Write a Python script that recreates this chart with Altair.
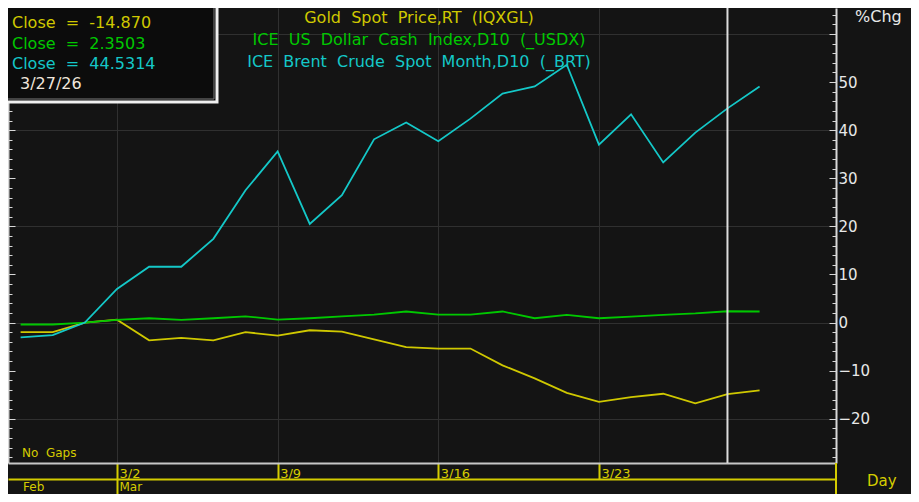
import altair as alt
import pandas as pd

# ---------------- data ----------------
dates = ["2/25", "2/26", "2/27", "3/2", "3/3", "3/4", "3/5", "3/6",
         "3/9", "3/10", "3/11", "3/12", "3/13", "3/16", "3/17", "3/18",
         "3/19", "3/20", "3/23", "3/24", "3/25", "3/26", "3/27", "3/30"]
gold = [-2.0, -2.0, 0.0, 0.6, -3.7, -3.2, -3.7, -2.0, -2.7, -1.6, -1.9, -3.5,
        -5.1, -5.4, -5.4, -8.9, -11.6, -14.6, -16.5, -15.5, -14.8, -16.8, -14.87, -14.1]
usd = [-0.4, -0.4, 0.0, 0.55, 0.9, 0.55, 0.9, 1.3, 0.6, 0.9, 1.3, 1.65,
       2.3, 1.65, 1.65, 2.3, 0.9, 1.6, 0.9, 1.25, 1.6, 1.9, 2.3503, 2.3]
brent = [-3.1, -2.6, 0.0, 7.0, 11.6, 11.6, 17.4, 27.5, 35.6, 20.5, 26.5, 38.1,
         41.6, 37.7, 42.4, 47.6, 49.1, 53.6, 37.0, 43.3, 33.3, 39.5, 44.5314, 49.1]

series_names = ["Gold Spot Price,RT (IQXGL)",
                "ICE US Dollar Cash Index,D10 (_USDX)",
                "ICE Brent Crude Spot Month,D10 (_BRT)"]
series_colors = ["#cfc800", "#00c800", "#14c8c8"]
readouts = ["-14.870", "2.3503", "44.5314"]
cursor_date = "3/27"
cursor_label = "3/27/26"
week_labels = ["3/2", "3/9", "3/16", "3/23"]
month_labels = ["Feb", "Mar"]
month_first = ["2/25", "3/2"]
y_label_values = [-20, -10, 0, 10, 20, 30, 40, 50, 60]
y_title = "%Chg"
x_title = "Day"
note = "No Gaps"

# ---------------- styling ----------------
FONT = "DejaVu Sans"
YELLOW = "#d4cc00"
FRAME = "#d8d8d8"
GRID = "#303030"
BG = "#141414"
W, H = 828, 455
WEEK_ROW = 16
NB2 = "\u00a0\u00a0"


def sp(s):
    return s.replace(" ", NB2)


rows = []
for name, vals in zip(series_names, [gold, usd, brent]):
    for i, v in enumerate(vals):
        rows.append({"idx": i, "value": v, "series": name})
df = pd.DataFrame(rows)

week_idx = [dates.index(d) for d in week_labels]
month_idx = [dates.index(d) for d in month_first]
cursor_idx = dates.index(cursor_date)


def label_expr(idx, labels):
    expr = "''"
    for i, l in reversed(list(zip(idx, labels))):
        expr = f"datum.value == {i} ? '{l}' : ({expr})"
    return expr


xs = alt.Scale(domain=[-0.392, 25.378], nice=False, zero=False)
ys = alt.Scale(domain=[-29.2, 65.4], nice=False, zero=False)
minor_vals = list(range(-28, 66, 2))

week_axis = alt.Axis(
    values=week_idx, orient="bottom", grid=True, gridColor=GRID,
    domain=True, domainColor="#c8c8c8", domainWidth=2,
    ticks=True, tickSize=WEEK_ROW, tickColor=YELLOW, tickWidth=2,
    labelExpr=label_expr(week_idx, week_labels), labelColor=YELLOW,
    labelFont=FONT, labelFontSize=13, labelAlign="left",
    labelBaseline="alphabetic", labelPadding=-2, labelOffset=2,
    labelOverlap=False, labelFlush=False, title=None)

month_axis = alt.Axis(
    values=month_idx, orient="bottom", offset=WEEK_ROW, grid=False,
    domain=True, domainColor=YELLOW, domainWidth=2,
    ticks=True, tickSize=15, tickColor=YELLOW, tickWidth=2,
    tickOpacity={"condition": {"test": f"indexof({month_idx[1:]}, datum.value) >= 0", "value": 1}, "value": 0},
    labelExpr=label_expr(month_idx, month_labels), labelColor=YELLOW,
    labelFont=FONT, labelFontSize=12, labelAlign="left",
    labelBaseline="alphabetic", labelPadding=-4, labelOffset=2,
    labelOverlap=False, labelFlush=False, title=None)

ylabel_axis = alt.Axis(
    orient="right", values=y_label_values,
    labelExpr=f"datum.value > {y_label_values[-2]} ? '' : datum.label",
    ticks=False, domain=False, grid=True, gridColor=GRID,
    gridOpacity={"condition": {"test": "datum.value % 20 == 0", "value": 1}, "value": 0},
    labelColor="#e8e8e8", labelFont=FONT, labelFontSize=15, labelPadding=2,
    labelOverlap=False, labelFlush=False, title=None)

tick_size = {"condition": {"test": "datum.value % 10 == 0", "value": 7}, "value": 4}

right_frame_axis = alt.Axis(
    orient="left", offset=-W, values=minor_vals, labels=False, grid=False,
    ticks=True, tickSize=tick_size, tickColor=FRAME, tickWidth=1,
    domain=True, domainColor=FRAME, domainWidth=2, title=None)

left_frame_axis = alt.Axis(
    orient="right", offset=-W, values=minor_vals, labels=False, grid=False,
    ticks=True, tickSize=tick_size, tickColor=FRAME, tickWidth=1,
    domain=True, domainColor=FRAME, domainWidth=2, title=None)

lines = alt.Chart(df).mark_line(strokeWidth=1.8).encode(
    x=alt.X("idx:Q", scale=xs, axis=week_axis),
    y=alt.Y("value:Q", scale=ys, axis=ylabel_axis),
    color=alt.Color("series:N", scale=alt.Scale(domain=series_names, range=series_colors), legend=None),
)


def ghost(x_axis, y_axis):
    return alt.Chart(df).mark_line(opacity=0).encode(
        x=alt.X("idx:Q", scale=xs, axis=x_axis),
        y=alt.Y("value:Q", scale=ys, axis=y_axis),
        detail="series:N",
    )


g1 = ghost(month_axis, right_frame_axis)
g2 = ghost(None, left_frame_axis)

cursor = alt.Chart(pd.DataFrame({"idx": [cursor_idx]})).mark_rule(
    color="#dcdcdc", strokeWidth=2).encode(
    x=alt.X("idx:Q", scale=xs, axis=None), y=alt.value(0), y2=alt.value(H))

end_rule = alt.Chart(pd.DataFrame({"a": [0]})).mark_rule(
    color=YELLOW, strokeWidth=2).encode(
    x=alt.value(W), y=alt.value(H), y2=alt.value(486))

box = alt.Chart(pd.DataFrame({"a": [0]})).mark_rect(
    fill="#0c0c0c", stroke="#f0f0f0", strokeWidth=3).encode(
    x=alt.value(-6), x2=alt.value(209), y=alt.value(-8), y2=alt.value(94))
box_inner = alt.Chart(pd.DataFrame({"a": [0]})).mark_rect(
    fill="transparent", stroke="#7a7a7a", strokeWidth=1).encode(
    x=alt.value(-4), x2=alt.value(206), y=alt.value(-6), y2=alt.value(91))


def text_layer(txt, x, y, color, size, align="left"):
    return alt.Chart(pd.DataFrame({"t": [txt]})).mark_text(
        align=align, baseline="alphabetic", font=FONT, fontSize=size, color=color
    ).encode(text="t:N", x=alt.value(x), y=alt.value(y))


layers = [lines, g1, g2, cursor, end_rule, box, box_inner]

for k, (name, col) in enumerate(zip(series_names, series_colors)):
    layers.append(text_layer(sp(name), 411, 15 + 22 * k, col, 16, align="center"))

for k, (r, col) in enumerate(zip(readouts, series_colors)):
    layers.append(text_layer(f"Close{NB2}={NB2}{r}", 4, 20 + 20.5 * k, col, 16))
layers.append(text_layer(cursor_label, 12, 81, "#f0e6dc", 16))

layers.append(text_layer(y_title, 847, 14, "#e8e8e8", 16))
layers.append(text_layer(x_title, 859, 478, YELLOW, 15))
layers.append(text_layer(sp(note), 14, 449, YELLOW, 12))

chart = alt.layer(*layers).properties(
    width=W, height=H,
    autosize=alt.AutoSizeParams(type="none"),
    padding={"left": 0, "top": 0, "right": 75, "bottom": 31},
).resolve_axis(x="independent", y="independent").configure(
    background=BG
).configure_view(strokeWidth=0)

chart.save("out.html", embed_options={"renderer": "svg", "actions": False})
